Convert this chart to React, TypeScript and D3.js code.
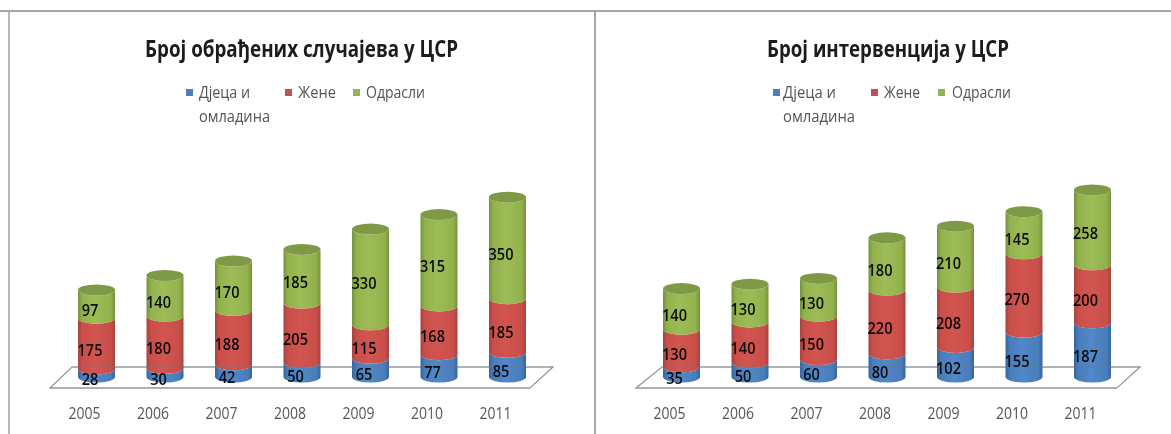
import React from "react";
import * as d3 from "d3";

const years = ["2005", "2006", "2007", "2008", "2009", "2010", "2011"];
const seriesKeys = ["djeca", "zene", "odrasli"];
const leftDjeca = [28, 30, 42, 50, 65, 77, 85];
const leftZene = [175, 180, 188, 205, 115, 168, 185];
const leftOdrasli = [97, 140, 170, 185, 330, 315, 350];
const rightDjeca = [35, 50, 60, 80, 102, 155, 187];
const rightZene = [130, 140, 150, 220, 208, 270, 200];
const rightOdrasli = [140, 130, 130, 180, 210, 145, 258];
const leftTitle = "Број обрађених случајева у ЦСР";
const rightTitle = "Број интервенција у ЦСР";
const legendNames = ["Дјеца и", "Жене", "Одрасли"];
const legendSecondLine = "омладина";

const W = 1171, H = 434;
const BASE_Y = 377, BW = 37, RY = 5.5;
const y = d3.scaleLinear().domain([0, 700]).range([BASE_Y, BASE_Y - 203]);
const colors = d3.scaleOrdinal<string, string>().domain(seriesKeys).range(["blue", "red", "green"]);
const swatch: Record<string, string> = { djeca: "#4f7db5", zene: "#bb5350", odrasli: "#94b352" };
const FONT = "'Open Sans', sans-serif";

type Panel = {
  id: string; title: string; tx0: number; tx1: number; c0: number; c1: number;
  front: [number, number]; back: [number, number]; lblDx: number;
  legend: { sx: number; tx0: number; tx1: number }[]; line2: [number, number];
  values: number[][];
};
const panels: Panel[] = [
  { id: "l", title: leftTitle, tx0: 145, tx1: 458, c0: 96.5, c1: 507.5, front: [50, 530], back: [72, 553], lblDx: -6.5,
    legend: [{ sx: 186, tx0: 199, tx1: 250 }, { sx: 285, tx0: 298, tx1: 336 }, { sx: 353, tx0: 366, tx1: 425 }], line2: [199, 270],
    values: [leftDjeca, leftZene, leftOdrasli] },
  { id: "r", title: rightTitle, tx0: 767, tx1: 1009, c0: 681.5, c1: 1092.5, front: [636, 1117], back: [662, 1140], lblDx: -7,
    legend: [{ sx: 773, tx0: 783, tx1: 836 }, { sx: 871, tx0: 884, tx1: 920 }, { sx: 938, tx0: 952, tx1: 1011 }], line2: [783, 855],
    values: [rightDjeca, rightZene, rightOdrasli] },
];

function segPath(cx: number, top: number, bottom: number) {
  const l = cx - BW / 2, r = cx + BW / 2;
  return `M${l},${top}A${BW / 2},${RY} 0 0 0 ${r},${top}L${r},${bottom}A${BW / 2},${RY} 0 0 1 ${l},${bottom}Z`;
}

function Chart({ p }: { p: Panel }) {
  const x = d3.scalePoint<string>().domain(years).range([p.c0, p.c1]);
  const rows = years.map((yr, i) => ({ yr, djeca: p.values[0][i], zene: p.values[1][i], odrasli: p.values[2][i] }));
  const stacked = d3.stack<any>().keys(seriesKeys)(rows);
  const [fl, fr] = p.front, [bl, br] = p.back;
  const fy = 388, by = 367;
  const outline = d3.line()([[fl, fy], [fr, fy], [br, by], [bl, by]]) + "Z";
  return (
    <g>
      <path d={outline} fill="#fff" stroke="#8f96a0" strokeWidth={1.2} />
      {stacked.map((s) =>
        s.map((d, i) => (
          <path key={s.key + i} d={segPath(x(years[i])!, y(d[1]), y(d[0]))} fill={`url(#${colors(s.key)})`} />
        ))
      )}
      {stacked[2].map((d, i) => (
        <ellipse key={"top" + i} cx={x(years[i])!} cy={y(d[1])} rx={BW / 2} ry={RY} fill="#7f9a47" />
      ))}
      <path d={d3.line()([[bl, by], [br, by]])!} stroke="#6f7680" strokeOpacity={0.55} strokeWidth={1} fill="none" />
      <path d={d3.line()([[fl, fy], [fr, fy]])!} stroke="#8f96a0" strokeWidth={1.2} fill="none" />
      {stacked.map((s) =>
        s.map((d, i) => {
          const label = String(d[1] - d[0]);
          return (
            <text key={"l" + s.key + i} x={x(years[i])! + p.lblDx} y={(y(d[0]) + y(d[1])) / 2 + 6.5} dy="0.35em"
              textAnchor="middle" textLength={label.length * 8.3} lengthAdjust="spacingAndGlyphs"
              fontFamily={FONT} fontWeight={600} fontSize={16} fill="#0a0a0a">
              {label}
            </text>
          );
        })
      )}
      {years.map((yr) => (
        <text key={yr} x={x(yr)! - 12} y={413} dy="0.35em" textAnchor="middle" textLength={32} lengthAdjust="spacingAndGlyphs"
          fontFamily={FONT} fontSize={16} fill="#555">
          {yr}
        </text>
      ))}
      <text x={p.tx0} y={49} dy="0.35em" textLength={p.tx1 - p.tx0} lengthAdjust="spacingAndGlyphs"
        fontFamily={FONT} fontWeight={700} fontSize={23} fill="#1a1a1a">
        {p.title}
      </text>
      {p.legend.map((l, i) => (
        <g key={i}>
          <rect x={l.sx} y={89} width={7} height={7} fill={swatch[seriesKeys[i]]} />
          <text x={l.tx0} y={92.5} dy="0.35em" textLength={l.tx1 - l.tx0} lengthAdjust="spacingAndGlyphs"
            fontFamily={FONT} fontSize={16} fill="#555">
            {legendNames[i]}
          </text>
        </g>
      ))}
      <text x={p.line2[0]} y={116} dy="0.35em" textLength={p.line2[1] - p.line2[0]} lengthAdjust="spacingAndGlyphs"
        fontFamily={FONT} fontSize={16} fill="#555">
        {legendSecondLine}
      </text>
    </g>
  );
}

function Grad({ id, edge, mid, bright }: { id: string; edge: string; mid: string; bright: string }) {
  return (
    <linearGradient id={id} x1="0" x2="1" y1="0" y2="0">
      <stop offset="0" stopColor={edge} />
      <stop offset="0.12" stopColor={mid} />
      <stop offset="0.45" stopColor={bright} />
      <stop offset="0.88" stopColor={mid} />
      <stop offset="1" stopColor={edge} />
    </linearGradient>
  );
}

export default function App() {
  return (
    <svg width={W} height={H} style={{ position: "absolute", left: 0, top: 0, background: "#fff" }}>
      <defs>
        <Grad id="blue" edge="#35659c" mid="#4a7dbb" bright="#5288c8" />
        <Grad id="red" edge="#a8433f" mid="#c94f4a" bright="#d25450" />
        <Grad id="green" edge="#75923e" mid="#92b24d" bright="#9dbc57" />
        <filter id="soft" x="-2%" y="-2%" width="104%" height="104%">
          <feGaussianBlur stdDeviation="0.75" />
        </filter>
      </defs>
      <g filter="url(#soft)">
        <path d="M0,11H1171" stroke="#8a8a8a" strokeWidth={1.5} />
        <path d="M9,11V434" stroke="#a0a0a0" strokeWidth={1.5} />
        <path d="M595,11V434" stroke="#8a8a8a" strokeWidth={1.5} />
        {panels.map((p) => <Chart key={p.id} p={p} />)}
      </g>
    </svg>
  );
}
